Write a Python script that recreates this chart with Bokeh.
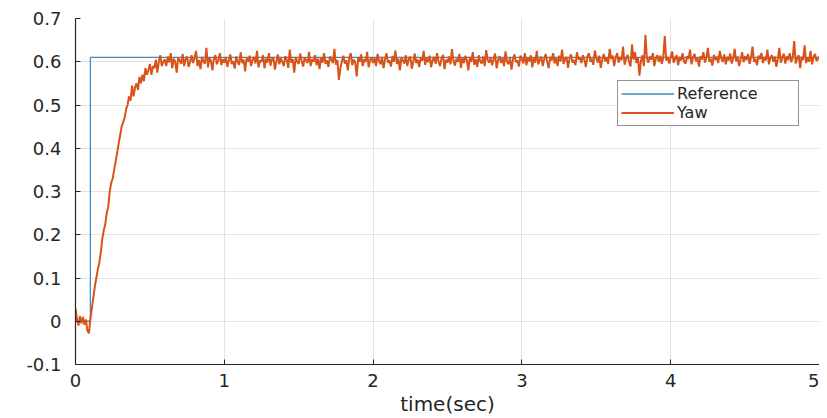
from bokeh.plotting import figure
from bokeh.models import Range1d, FixedTicker, Legend, LegendItem
from bokeh.embed import file_html
from bokeh.resources import INLINE

# ---- data -------------------------------------------------------------
dt = 0.01
ref_t = [0.0, 0.1, 0.1, 5.0]
ref_v = [0.0, 0.0, 0.61, 0.61]

yaw_start = [0.03, 0.005, -0.01, 0.012, -0.005, 0.01, -0.008, 0.004, -0.022, -0.028]
yaw_rise = [0.005, 0.03, 0.055, 0.08, 0.10, 0.12, 0.135, 0.16, 0.19, 0.21,
            0.225, 0.25, 0.265, 0.30, 0.32, 0.33, 0.35, 0.37, 0.39, 0.41,
            0.43, 0.45, 0.46, 0.47, 0.49, 0.50, 0.52, 0.51, 0.545, 0.52,
            0.54, 0.55, 0.535, 0.565, 0.55, 0.57, 0.555, 0.585, 0.57, 0.58,
            0.595, 0.57, 0.59, 0.585, 0.605, 0.575, 0.60, 0.615, 0.59, 0.60]
yaw_steady = [
    0.605, 0.59, 0.612, 0.598, 0.62, 0.585, 0.607, 0.60, 0.575, 0.61, 0.603, 0.595, 0.618, 0.59, 0.606, 0.612, 0.588, 0.60, 0.615, 0.597,
    0.608, 0.625, 0.59, 0.604, 0.583, 0.611, 0.60, 0.596, 0.632, 0.587, 0.61, 0.602, 0.58, 0.607, 0.615, 0.594, 0.603, 0.62, 0.592, 0.606,
    0.598, 0.61, 0.588, 0.603, 0.617, 0.595, 0.601, 0.584, 0.612, 0.60, 0.593, 0.622, 0.597, 0.605, 0.578, 0.609, 0.60, 0.614, 0.59, 0.604,
    0.611, 0.596, 0.625, 0.587, 0.603, 0.60, 0.615, 0.585, 0.607, 0.598, 0.62, 0.591, 0.605, 0.61, 0.582, 0.60, 0.617, 0.594, 0.608, 0.60,
    0.59, 0.613, 0.604, 0.586, 0.628, 0.598, 0.606, 0.575, 0.611, 0.60, 0.595, 0.619, 0.602, 0.589, 0.61, 0.603, 0.597, 0.623, 0.59, 0.606,
    0.60, 0.615, 0.592, 0.607, 0.583, 0.61, 0.598, 0.62, 0.595, 0.603, 0.588, 0.612, 0.605, 0.597, 0.63, 0.593, 0.604, 0.558, 0.585, 0.60,
    0.614, 0.596, 0.603, 0.58, 0.609, 0.62, 0.592, 0.605, 0.598, 0.566, 0.611, 0.60, 0.617, 0.59, 0.606, 0.599, 0.623, 0.587, 0.604, 0.61,
    0.597, 0.608, 0.59, 0.618, 0.602, 0.594, 0.611, 0.585, 0.605, 0.62, 0.598, 0.603, 0.589, 0.613, 0.60, 0.626, 0.595, 0.607, 0.58, 0.61,
    0.603, 0.596, 0.615, 0.59, 0.606, 0.612, 0.584, 0.60, 0.619, 0.597, 0.605, 0.588, 0.61, 0.602, 0.625, 0.593, 0.608, 0.599, 0.614, 0.587,
    0.604, 0.611, 0.595, 0.62, 0.60, 0.59, 0.608, 0.616, 0.583, 0.605, 0.598, 0.612, 0.594, 0.629, 0.602, 0.591, 0.607, 0.60, 0.618, 0.586,
    0.609, 0.597, 0.614, 0.603, 0.58, 0.611, 0.60, 0.622, 0.593, 0.606, 0.588, 0.615, 0.601, 0.596, 0.612, 0.59, 0.627, 0.604, 0.598, 0.61,
    0.592, 0.606, 0.619, 0.585, 0.603, 0.613, 0.597, 0.608, 0.59, 0.624, 0.60, 0.594, 0.61, 0.582, 0.605, 0.617, 0.599, 0.603, 0.589, 0.614,
    0.606, 0.596, 0.62, 0.592, 0.608, 0.601, 0.615, 0.587, 0.61, 0.598, 0.625, 0.594, 0.604, 0.612, 0.59, 0.607, 0.618, 0.60, 0.585, 0.611,
    0.603, 0.62, 0.596, 0.609, 0.59, 0.614, 0.601, 0.628, 0.595, 0.606, 0.611, 0.586, 0.608, 0.617, 0.598, 0.604, 0.592, 0.622, 0.605, 0.61,
    0.597, 0.615, 0.604, 0.588, 0.612, 0.62, 0.60, 0.607, 0.593, 0.626, 0.609, 0.598, 0.614, 0.586, 0.605, 0.618, 0.601, 0.61, 0.595, 0.63,
    0.606, 0.614, 0.59, 0.609, 0.62, 0.598, 0.611, 0.604, 0.635, 0.593, 0.607, 0.616, 0.60, 0.589, 0.64, 0.605, 0.622, 0.597, 0.61, 0.568,
    0.602, 0.615, 0.59, 0.662, 0.608, 0.598, 0.612, 0.605, 0.62, 0.59, 0.607, 0.615, 0.60, 0.614, 0.595, 0.609, 0.66, 0.603, 0.611, 0.596,
    0.61, 0.624, 0.598, 0.607, 0.615, 0.592, 0.611, 0.603, 0.62, 0.60, 0.596, 0.613, 0.606, 0.628, 0.594, 0.61, 0.618, 0.601, 0.608, 0.589,
    0.613, 0.605, 0.622, 0.598, 0.61, 0.632, 0.60, 0.607, 0.591, 0.616, 0.604, 0.612, 0.597, 0.625, 0.608, 0.60, 0.617, 0.594, 0.611, 0.603,
    0.619, 0.596, 0.608, 0.63, 0.601, 0.612, 0.59, 0.606, 0.622, 0.599, 0.613, 0.604, 0.618, 0.595, 0.61, 0.635, 0.60, 0.607, 0.592, 0.614,
    0.606, 0.62, 0.597, 0.611, 0.603, 0.628, 0.594, 0.609, 0.615, 0.60, 0.612, 0.588, 0.607, 0.632, 0.598, 0.61, 0.619, 0.596, 0.613, 0.604,
    0.62, 0.599, 0.61, 0.648, 0.596, 0.608, 0.615, 0.585, 0.612, 0.604, 0.638, 0.597, 0.609, 0.60, 0.625, 0.594, 0.61, 0.618, 0.602, 0.607,
    0.612]
yaw_v = yaw_start + yaw_rise + yaw_steady
yaw_t = [i * dt for i in range(len(yaw_v))]

x_ticks = [0, 1, 2, 3, 4, 5]
y_ticks = [-0.1, 0, 0.1, 0.2, 0.3, 0.4, 0.5, 0.6, 0.7]
y_labels = {-0.1: "-0.1", 0: "0", 0.1: "0.1", 0.2: "0.2", 0.3: "0.3",
            0.4: "0.4", 0.5: "0.5", 0.6: "0.6", 0.7: "0.7"}

# ---- figure -----------------------------------------------------------
FONT = "DejaVu Sans"
AX = "#262626"

p = figure(width=819, height=418, output_backend="svg", toolbar_location=None,
           x_range=Range1d(0, 5), y_range=Range1d(-0.1, 0.7),
           min_border_left=75, min_border_right=0, min_border_top=18,
           min_border_bottom=48)
p.outline_line_color = None
p.background_fill_color = "white"
p.border_fill_color = "white"

ref_r = p.line(ref_t, ref_v, line_color="#3C8DBC", line_width=1.3)
yaw_r = p.line(yaw_t, yaw_v, line_color="#D95319", line_width=2.0)

for ax in (p.xaxis[0], p.yaxis[0]):
    ax.axis_line_color = AX
    ax.axis_line_width = 1.2
    ax.major_tick_in = 5
    ax.major_tick_out = 0
    ax.major_tick_line_color = AX
    ax.minor_tick_line_color = None
    ax.major_label_text_font = FONT
    ax.major_label_text_font_size = "18px"
    ax.major_label_text_color = AX

p.xaxis[0].ticker = FixedTicker(ticks=x_ticks)
p.yaxis[0].ticker = FixedTicker(ticks=y_ticks)
p.yaxis[0].major_label_overrides = y_labels
p.xaxis[0].major_label_standoff = 9
p.yaxis[0].major_label_standoff = 14

p.xaxis[0].axis_label = "time(sec)"
p.xaxis[0].axis_label_text_font = FONT
p.xaxis[0].axis_label_text_font_size = "20px"
p.xaxis[0].axis_label_text_font_style = "normal"
p.xaxis[0].axis_label_text_color = AX
p.xaxis[0].axis_label_standoff = 2

for g in (p.xgrid[0], p.ygrid[0]):
    g.grid_line_color = "#e3e3e3"
    g.grid_line_width = 1
p.xgrid[0].ticker = FixedTicker(ticks=x_ticks)
p.ygrid[0].ticker = FixedTicker(ticks=y_ticks)

legend = Legend(items=[LegendItem(label="Reference", renderers=[ref_r]),
                       LegendItem(label="Yaw", renderers=[yaw_r])],
                location=(542, 238))
legend.border_line_color = "#262626"
legend.border_line_width = 1
legend.background_fill_color = "white"
legend.background_fill_alpha = 1
legend.label_text_font = FONT
legend.label_text_font_size = "16px"
legend.label_text_color = "#262626"
legend.padding = 3
legend.spacing = 0
legend.margin = 0
legend.glyph_width = 53
legend.glyph_height = 17
legend.label_height = 17
legend.label_standoff = 3
legend.label_width = 118
p.add_layout(legend)

open("out.html", "w").write(file_html(p, INLINE))
